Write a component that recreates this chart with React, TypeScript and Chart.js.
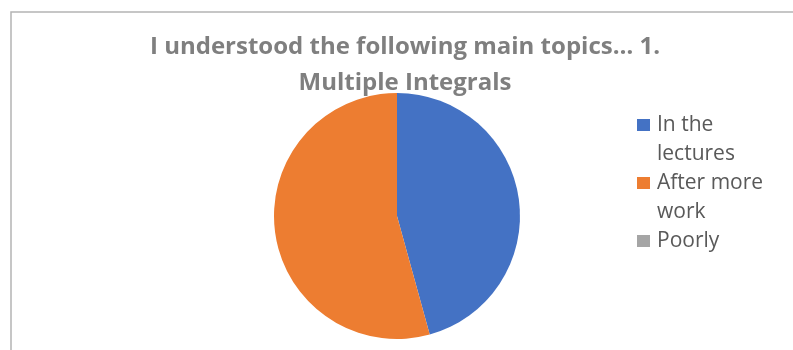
import React, { useEffect, useRef } from "react";
import { Chart, registerables } from "chart.js";

Chart.register(...registerables);

const titleLines = ["I understood the following main topics\u2026 1.", "Multiple Integrals"];
const categories = ["In the lectures", "After more work", "Poorly"];
const legendLines = [["In the", "lectures"], ["After more", "work"], ["Poorly"]];
const responses = [16, 19, 0];
const sliceColors = ["#4472C4", "#ED7D31", "#A5A5A5"];

const FONT = "'Open Sans', sans-serif";

// Draws the frame, the two-line title and the wrapped legend around the pie.
const decorations = {
  id: "decorations",
  beforeDraw(chart: Chart) {
    const ctx = chart.ctx;
    ctx.save();
    ctx.fillStyle = "#ffffff";
    ctx.fillRect(0, 0, chart.width, chart.height);
    ctx.strokeStyle = "#b4b4b4";
    ctx.lineWidth = 1.5;
    ctx.beginPath();
    ctx.moveTo(11, chart.height);
    ctx.lineTo(11, 12);
    ctx.lineTo(chart.width, 12);
    ctx.stroke();
    ctx.restore();
  },
  afterDraw(chart: Chart) {
    const ctx = chart.ctx;
    ctx.save();
    ctx.fillStyle = "#7f7f7f";
    ctx.font = `bold 24px ${FONT}`;
    ctx.textAlign = "center";
    ctx.textBaseline = "alphabetic";
    const titleBaselines = [54, 90];
    titleLines.forEach((line, i) => ctx.fillText(line, 405, titleBaselines[i]));

    ctx.font = `21px ${FONT}`;
    ctx.textAlign = "left";
    let baseline = 131;
    const step = 29;
    legendLines.forEach((lines, i) => {
      ctx.fillStyle = sliceColors[i];
      ctx.fillRect(637, baseline - 12, 13, 12);
      ctx.fillStyle = "#595959";
      lines.forEach((line) => {
        ctx.fillText(line, 657, baseline);
        baseline += step;
      });
    });
    ctx.restore();
  },
};

export default function App() {
  const canvasRef = useRef<HTMLCanvasElement | null>(null);

  useEffect(() => {
    if (!canvasRef.current) return;
    const chart = new Chart(canvasRef.current, {
      type: "pie",
      data: {
        labels: categories,
        datasets: [
          {
            data: responses,
            backgroundColor: sliceColors,
            borderWidth: 0,
          },
        ],
      },
      options: {
        animation: false,
        responsive: false,
        layout: { padding: { top: 93, bottom: 11, left: 274, right: 273 } },
        plugins: {
          legend: { display: false },
          title: { display: false },
          tooltip: { enabled: false },
        },
      },
      plugins: [decorations],
    });
    return () => chart.destroy();
  }, []);

  return (
    <canvas
      ref={canvasRef}
      width={793}
      height={350}
      style={{ position: "absolute", left: 0, top: 0, width: 793, height: 350 }}
    />
  );
}
